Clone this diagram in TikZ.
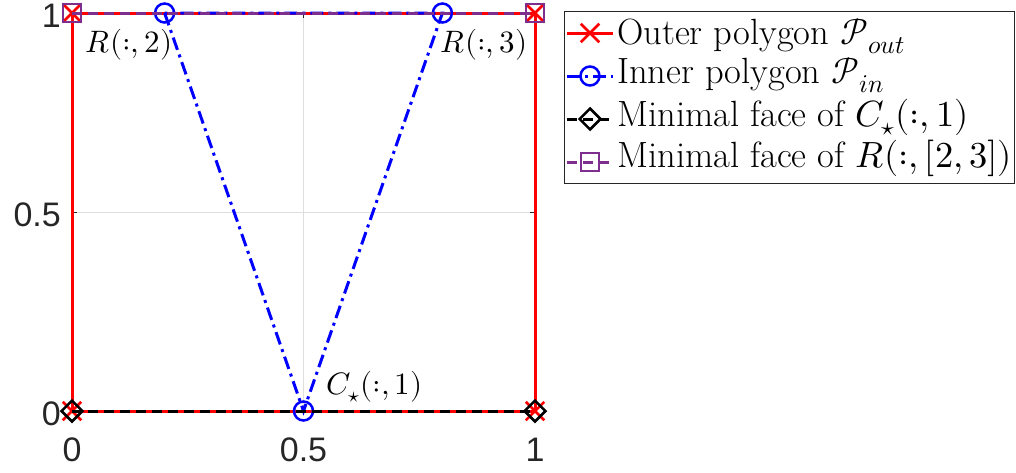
\documentclass[tikz,border=0pt]{standalone}
\usepackage{fontspec}
\usepackage{unicode-math}
\setmathfont{Latin Modern Math}
\newfontfamily\tickfont{Liberation Sans}
\usetikzlibrary{shapes.misc,shapes.geometric}
\definecolor{mpurple}{rgb}{0.494,0.184,0.556}
\definecolor{axgray}{rgb}{0.15,0.15,0.15}
\definecolor{gridgray}{rgb}{0.87,0.87,0.87}
\tikzset{
 redline/.style={red,line width=3pt},
 blueline/.style={blue,line width=3pt,dash pattern=on 13pt off 5pt on 3pt off 5pt},
 blackline/.style={black,line width=3pt,dash pattern=on 10pt off 6pt},
 purpleline/.style={mpurple,line width=3pt,dash pattern=on 10pt off 6pt},
 xmark/.style={cross out,draw=red,line width=2.5pt,minimum size=16pt,inner sep=0pt,solid},
 omark/.style={circle,draw=blue,line width=2.5pt,minimum size=19pt,inner sep=0pt,solid},
 dmark/.style={diamond,aspect=1,draw=black,line width=2.5pt,minimum width=22pt,minimum height=22pt,inner sep=0pt,solid},
 smark/.style={rectangle,draw=mpurple,line width=2.5pt,minimum size=18pt,inner sep=0pt,solid},
 ticklab/.style={font=\tickfont\fontsize{34}{40}\selectfont,text=axgray,inner sep=0pt},
 annot/.style={font=\fontsize{31}{37}\selectfont,inner sep=0pt},
 legtext/.style={font=\fontsize{36.5}{44}\selectfont,inner sep=0pt,anchor=base west},
 gridline/.style={gridgray,line width=1pt},
 axline/.style={axgray,line width=1pt},
}
\begin{document}
\begin{tikzpicture}[x=1pt,y=-1pt]
\useasboundingbox (0,0) rectangle (1016,472);
% plot corners
\coordinate (o00) at (72,411);
\coordinate (o10) at (535,411);
\coordinate (o11) at (535,13);
\coordinate (o01) at (72,13);
\coordinate (i1) at (164.6,13);
\coordinate (i2) at (303.5,411);
\coordinate (i3) at (442.4,13);
% grid
\coordinate (gxb) at (303.5,411);
\coordinate (gxt) at (303.5,13);
\coordinate (gyl) at (72,212);
\coordinate (gyr) at (535,212);
\draw[gridline] (gxb) -- (gxt);
\draw[gridline] (gyl) -- (gyr);
% axes box and ticks
\draw[axline] (o00) rectangle (o11);
\coordinate (tyl) at (77,212);
\coordinate (tyr) at (530,212);
\coordinate (txb) at (303.5,406);
\coordinate (txt) at (303.5,18);
\draw[axline] (gyl) -- (tyl);
\draw[axline] (gyr) -- (tyr);
\draw[axline] (gxb) -- (txb);
\draw[axline] (gxt) -- (txt);
% tick labels
\node[ticklab,anchor=east] (yl0) at (61,414) {0};
\node[ticklab,anchor=east] (yl5) at (61,215) {0.5};
\node[ticklab,anchor=east] (yl1) at (61,16) {1};
\node[ticklab] (xl0) at (72,450) {0};
\node[ticklab] (xl5) at (303.5,450) {0.5};
\node[ticklab] (xl1) at (535,450) {1};
% outer polygon
\draw[redline] (o00) -- (o10) -- (o11) -- (o01) -- cycle;
\foreach \p in {o00,o10,o11,o01} \node[xmark] (x\p) at (\p) {};
% inner polygon
\draw[blueline] (i1) -- (i2) -- (i3) -- cycle;
\foreach \p in {i1,i2,i3} \node[omark] (c\p) at (\p) {};
% minimal face of C
\draw[blackline] (o00) -- (o10);
\foreach \p in {o00,o10} \node[dmark] (d\p) at (\p) {};
% minimal face of R
\draw[purpleline] (o01) -- (o11);
\foreach \p in {o01,o11} \node[smark] (s\p) at (\p) {};
% annotations
\node[annot] (a2) at (129,45) {$R(:,2)$};
\node[annot] (a3) at (484,45) {$R(:,3)$};
\node[annot] (a1) at (374.5,387) {$C_\star(:,1)$};
% legend
\node[draw=axgray,line width=1pt,fill=white,minimum width=450pt,minimum height=172pt,inner sep=0pt,anchor=north west] (leg) at (564,11) {};
\coordinate (l1a) at (567,33); \coordinate (l1b) at (613,33);
\coordinate (l2a) at (567,76); \coordinate (l2b) at (613,76);
\coordinate (l3a) at (567,119); \coordinate (l3b) at (613,119);
\coordinate (l4a) at (567,162); \coordinate (l4b) at (613,162);
\draw[redline] (l1a) -- (l1b);
\node[xmark] (lm1) at (590,33) {};
\draw[blueline] (l2a) -- (l2b);
\node[omark] (lm2) at (590,76) {};
\draw[blackline] (l3a) -- (l3b);
\node[dmark] (lm3) at (590,119) {};
\draw[purpleline] (l4a) -- (l4b);
\node[smark] (lm4) at (590,162) {};
\node[legtext] (lt1) at (617,44) {Outer polygon $\mathcal{P}_{out}$};
\node[legtext] (lt2) at (617,83) {Inner polygon $\mathcal{P}_{in}$};
\node[legtext] (lt3) at (617,126) {Minimal face of $C_\star(:,1)$};
\node[legtext] (lt4) at (617,167) {Minimal face of $R(:,[2,3])$};
\end{tikzpicture}
\end{document}
